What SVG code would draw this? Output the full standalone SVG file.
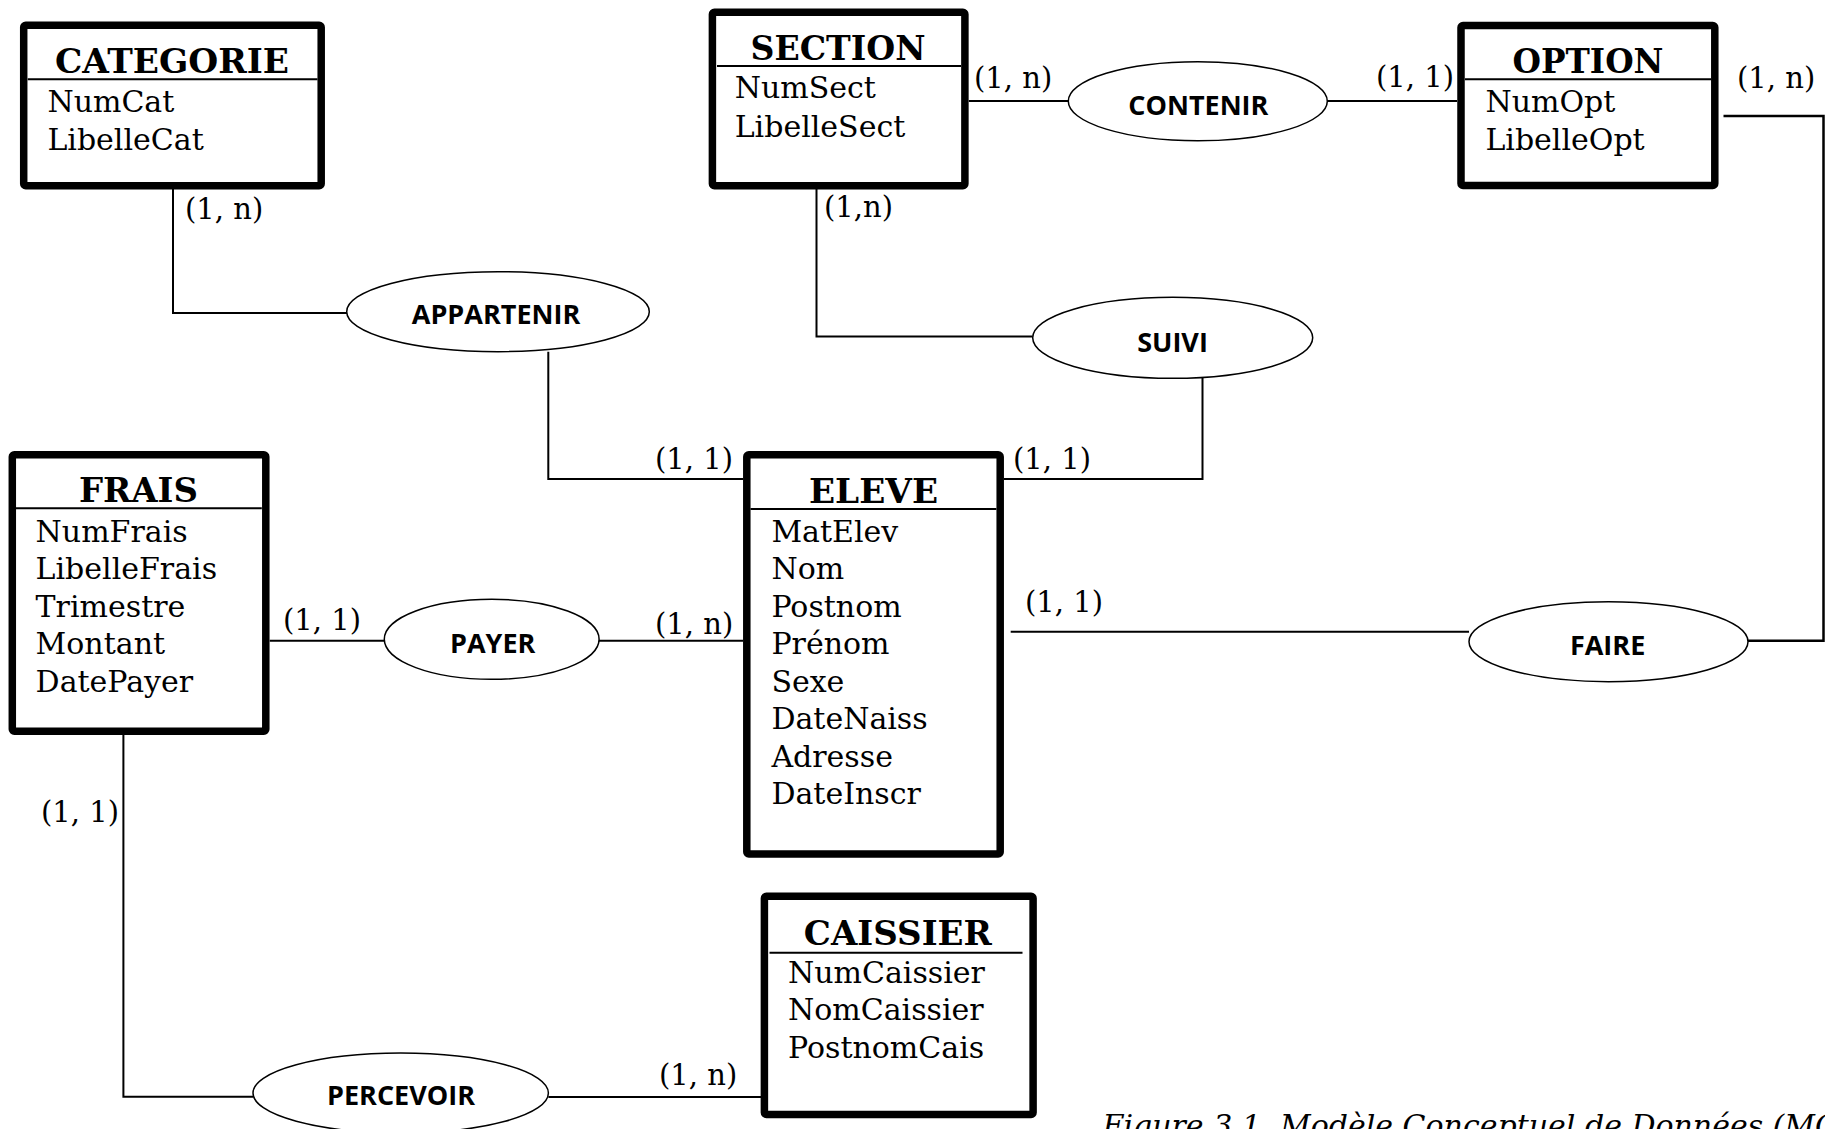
<svg xmlns="http://www.w3.org/2000/svg" width="1825" height="1129" viewBox="0 0 1825 1129">
<style>
.box{fill:#fff;stroke:#000;stroke-width:7.5;stroke-linejoin:round}
.hdr{stroke:#000;stroke-width:2}
.title{font-family:"DejaVu Serif","Liberation Serif",serif;font-weight:bold;font-size:33px;text-anchor:middle;fill:#000}
.attr{font-family:"DejaVu Serif","Liberation Serif",serif;font-size:30px;fill:#000}
.card{font-family:"DejaVu Serif","Liberation Serif",serif;font-size:29px;fill:#000}
.rel{fill:#fff;stroke:#000;stroke-width:1.5}
.rlabel{font-family:"Open Sans","Liberation Sans",sans-serif;font-weight:bold;font-size:27px;text-anchor:middle;fill:#000}
.conn{fill:none;stroke:#000;stroke-width:2}
.cap{font-family:"DejaVu Serif","Liberation Serif",serif;font-style:italic;font-size:30px;fill:#000}
</style>
<rect width="1825" height="1129" fill="#fff"/>

<g id="connectors">
<polyline class="conn" points="173,189 173,313 347,313"/>
<polyline class="conn" points="548.3,351.7 548.3,479 743,479"/>
<polyline class="conn" points="968.8,101 1068.3,101"/>
<polyline class="conn" points="1327.3,101 1457,101"/>
<polyline class="conn" points="816.5,189 816.5,336.5 1032.7,336.5"/>
<polyline class="conn" points="1202.5,378 1202.5,479 1004,479"/>
<polyline class="conn" points="269.7,640.7 384.3,640.7"/>
<polyline class="conn" points="599,640.7 743,640.7"/>
<polyline class="conn" points="1010.7,631.7 1469,631.7"/>
<polyline class="conn" style="stroke-width:2.5" points="1748,640.7 1823.5,640.7 1823.5,116 1723.5,116"/>
<polyline class="conn" points="123.4,735 123.4,1096.7 253,1096.7"/>
<polyline class="conn" points="548.4,1097 768.3,1097"/>
<text class="card" x="185" y="219">(1, n)</text>
<text class="card" x="974" y="88">(1, n)</text>
<text class="card" x="824" y="217">(1,n)</text>
<text class="card" x="1376" y="87">(1, 1)</text>
<text class="card" x="1737" y="88">(1, n)</text>
<text class="card" x="655" y="469">(1, 1)</text>
<text class="card" x="1013" y="469">(1, 1)</text>
<text class="card" x="655" y="634">(1, n)</text>
<text class="card" x="1025" y="612">(1, 1)</text>
<text class="card" x="283" y="630">(1, 1)</text>
<text class="card" x="41" y="822">(1, 1)</text>
<text class="card" x="659" y="1085">(1, n)</text>
</g>

<g id="categorie">
<rect class="box" x="23.7" y="25.3" width="297.5" height="160.4" rx="2"/>
<line class="hdr" x1="27.7" y1="79.3" x2="317.5" y2="79.3"/>
<text class="title" x="172" y="73" textLength="234" lengthAdjust="spacingAndGlyphs">CATEGORIE</text>
<text class="attr" x="47.4" y="111.7">NumCat</text>
<text class="attr" x="47.4" y="150">LibelleCat</text>
</g>

<g id="section">
<rect class="box" x="712.4" y="12.2" width="252.5" height="173.5" rx="2"/>
<line class="hdr" x1="717" y1="66" x2="961" y2="66"/>
<text class="title" x="838" y="60" textLength="175" lengthAdjust="spacingAndGlyphs">SECTION</text>
<text class="attr" x="734.7" y="98">NumSect</text>
<text class="attr" x="734.7" y="137">LibelleSect</text>
</g>

<g id="option">
<rect class="box" x="1461" y="25.5" width="253.8" height="160" rx="2"/>
<line class="hdr" x1="1465" y1="79.3" x2="1711" y2="79.3"/>
<text class="title" x="1588" y="73.3" textLength="151" lengthAdjust="spacingAndGlyphs">OPTION</text>
<text class="attr" x="1485.4" y="111.7">NumOpt</text>
<text class="attr" x="1485.4" y="150">LibelleOpt</text>
</g>

<g id="frais">
<rect class="box" x="12.3" y="454.8" width="253.5" height="276.4" rx="2"/>
<line class="hdr" x1="15.8" y1="508.3" x2="261.8" y2="508.3"/>
<text class="title" x="138.4" y="501.7" textLength="119" lengthAdjust="spacingAndGlyphs">FRAIS</text>
<text class="attr" x="35.6" y="541.7">NumFrais</text>
<text class="attr" x="35.6" y="579.2">LibelleFrais</text>
<text class="attr" x="35.6" y="616.7">Trimestre</text>
<text class="attr" x="35.6" y="654.2">Montant</text>
<text class="attr" x="35.6" y="691.7">DatePayer</text>
</g>

<g id="eleve">
<rect class="box" x="746.8" y="454.8" width="253.4" height="399.2" rx="2"/>
<line class="hdr" x1="750.5" y1="509" x2="996.4" y2="509"/>
<text class="title" x="873.5" y="502.7" textLength="129" lengthAdjust="spacingAndGlyphs">ELEVE</text>
<text class="attr" x="771.4" y="541.7">MatElev</text>
<text class="attr" x="771.4" y="579.2">Nom</text>
<text class="attr" x="771.4" y="616.7">Postnom</text>
<text class="attr" x="771.4" y="654.2">Prénom</text>
<text class="attr" x="771.4" y="691.7">Sexe</text>
<text class="attr" x="771.4" y="729.2">DateNaiss</text>
<text class="attr" x="771.4" y="766.7">Adresse</text>
<text class="attr" x="771.4" y="804.2">DateInscr</text>
</g>

<g id="caissier">
<rect class="box" x="764.4" y="896.2" width="268.7" height="218.3" rx="2"/>
<line class="hdr" x1="769.5" y1="952.7" x2="1022.5" y2="952.7"/>
<text class="title" x="897.8" y="945" textLength="188" lengthAdjust="spacingAndGlyphs">CAISSIER</text>
<text class="attr" x="788" y="982.7">NumCaissier</text>
<text class="attr" x="788" y="1020.2">NomCaissier</text>
<text class="attr" x="788" y="1057.7">PostnomCais</text>
</g>

<g id="appartenir">
<ellipse class="rel" cx="498" cy="311.7" rx="151.3" ry="40"/>
<text class="rlabel" x="496" y="324">APPARTENIR</text>
</g>
<g id="contenir">
<ellipse class="rel" cx="1197.8" cy="101.2" rx="129.5" ry="39.5"/>
<text class="rlabel" x="1198.3" y="115">CONTENIR</text>
</g>
<g id="suivi">
<ellipse class="rel" cx="1172.7" cy="337.8" rx="140" ry="40.5"/>
<text class="rlabel" x="1172.5" y="351.7">SUIVI</text>
</g>
<g id="payer">
<ellipse class="rel" cx="491.7" cy="639.3" rx="107.4" ry="40"/>
<text class="rlabel" x="492.7" y="652.7">PAYER</text>
</g>
<g id="faire">
<ellipse class="rel" cx="1608.5" cy="641.7" rx="139.5" ry="40"/>
<text class="rlabel" x="1607.6" y="655">FAIRE</text>
</g>
<g id="percevoir">
<ellipse class="rel" cx="400.7" cy="1093" rx="147.7" ry="40"/>
<text class="rlabel" x="401" y="1105">PERCEVOIR</text>
</g>

<text class="cap" x="1102.6" y="1136">Figure 3.1. Modèle Conceptuel de Données (MCD)</text>
</svg>
